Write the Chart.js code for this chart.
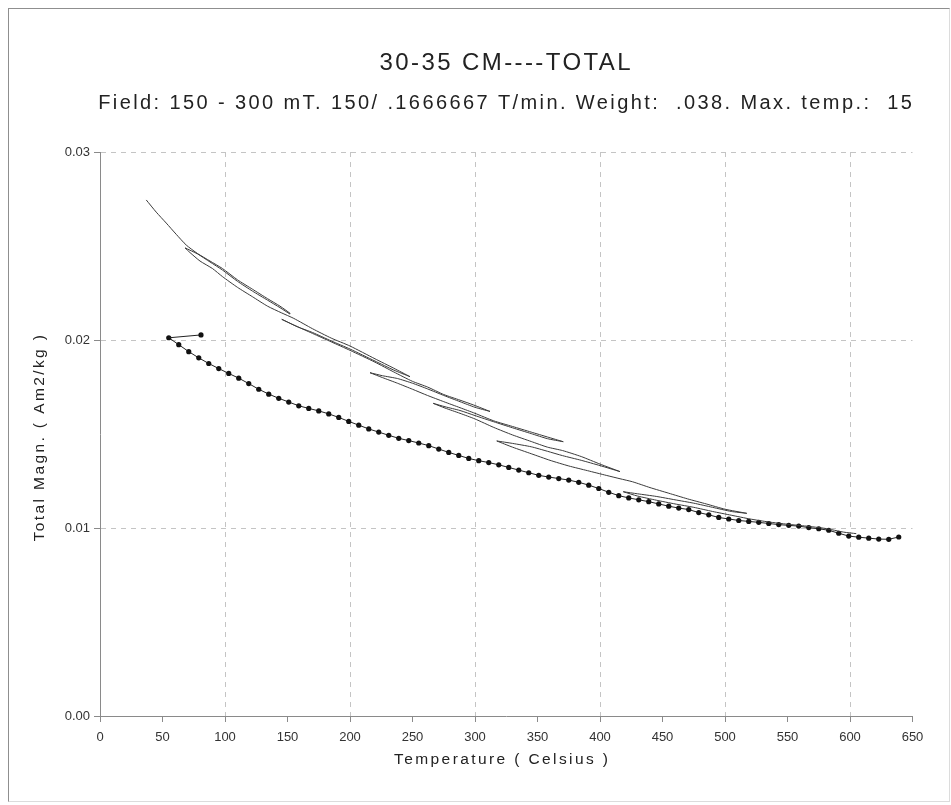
<!DOCTYPE html>
<html>
<head>
<meta charset="utf-8">
<title>30-35 CM----TOTAL</title>
<script src="https://cdn.jsdelivr.net/npm/chart.js@4.4.1/dist/chart.umd.min.js"></script>
<style>
  html, body { margin: 0; padding: 0; background: #fff; }
  #wrap { position: relative; width: 951px; height: 805px; overflow: hidden; }
  #frame {
    position: absolute; left: 8px; top: 8px; width: 940px; height: 792px;
    border-top: 1px solid #8f8f8f; border-left: 1px solid #8f8f8f;
    border-right: 1px solid #dcdcdc; border-bottom: 1px solid #dcdcdc;
  }
  #chart { position: absolute; left: 0; top: 0; }
</style>
</head>
<body>
<div id="wrap">
  <div id="frame"></div>
  <canvas id="chart" width="951" height="805"></canvas>
</div>
<script>
// texts
const chartTitle = '30-35 CM----TOTAL';
const chartSubtitle = 'Field: 150 - 300 mT. 150/ .1666667 T/min. Weight:  .038. Max. temp.:  15';
const xTitle = 'Temperature ( Celsius )';
const yTitle = 'Total Magn. ( Am2/kg )';

// axis ticks
const xTicks = [0, 50, 100, 150, 200, 250, 300, 350, 400, 450, 500, 550, 600, 650];
const yTicks = [0, 0.01, 0.02, 0.03];

// final heating run (dotted curve)
const dotTemp = [55, 63, 71, 79, 87, 95, 103, 111, 119, 127, 135, 143, 151, 159, 167, 175, 183, 191, 199,
  207, 215, 223, 231, 239, 247, 255, 263, 271, 279, 287, 295, 303, 311, 319, 327, 335, 343, 351, 359,
  367, 375, 383, 391, 399, 407, 415, 423, 431, 439, 447, 455, 463, 471, 479, 487, 495, 503, 511, 519,
  527, 535, 543, 551, 559, 567, 575, 583, 591, 599, 607, 615, 623, 631, 639];
const dotMagn = [0.02012, 0.01975, 0.01938, 0.01905, 0.01875, 0.01848, 0.01822, 0.01797, 0.01768, 0.01738,
  0.01712, 0.0169, 0.0167, 0.0165, 0.01636, 0.01623, 0.01607, 0.01588, 0.01567, 0.01547, 0.01527, 0.0151,
  0.01493, 0.01477, 0.01465, 0.01452, 0.01438, 0.0142, 0.01402, 0.01386, 0.0137, 0.01358, 0.01348, 0.01336,
  0.01322, 0.01308, 0.01294, 0.0128, 0.01271, 0.01263, 0.01255, 0.01243, 0.01228, 0.0121, 0.0119, 0.01172,
  0.0116, 0.0115, 0.0114, 0.01128, 0.01116, 0.01106, 0.01098, 0.01082, 0.0107, 0.01056, 0.01048, 0.0104,
  0.01035, 0.0103, 0.01024, 0.01018, 0.01014, 0.0101, 0.01002, 0.00996, 0.00988, 0.00972, 0.00957, 0.00951,
  0.00946, 0.00941, 0.0094, 0.00952];

// short step before the dotted run
const firstStep = [[80.8, 0.02027], [55.5, 0.02012]];

// stepwise heating / cooling cycles [temp, magn]
const heat1 = [[37, 0.02745], [45, 0.0268], [53, 0.02622], [61, 0.02562], [69, 0.02505], [78, 0.0246], [88, 0.0242],
  [98, 0.0238], [110, 0.0232], [122, 0.0227], [134, 0.0222], [144, 0.0218], [152, 0.02142]];
const cool1 = [[152, 0.02138], [144, 0.02172], [134, 0.02212], [122, 0.0226], [110, 0.02312], [98, 0.02372],
  [88, 0.02415], [78, 0.02458], [68, 0.0249]];
const heat2 = [[68, 0.0249], [72, 0.02465], [80, 0.0242], [90, 0.0238], [98, 0.02337], [110, 0.0228], [122, 0.0223],
  [134, 0.0218], [145, 0.02145], [155, 0.02115], [170, 0.0206], [185, 0.0201], [200, 0.01968], [220, 0.019],
  [235, 0.0185], [248, 0.01805]];
const cool2 = [[248, 0.01805], [235, 0.0184], [220, 0.01888], [200, 0.01952], [185, 0.01995], [170, 0.0204],
  [158, 0.0207], [145.4, 0.0211]];
const heat3 = [[145.4, 0.0211], [155, 0.0208], [170, 0.02035], [185, 0.0199], [200, 0.01945], [220, 0.01882],
  [235, 0.0183], [250, 0.0178], [262, 0.0175], [275, 0.0171], [288, 0.0168], [299, 0.01654], [312, 0.0162]];
const cool3 = [[312, 0.0162], [300, 0.01642], [288, 0.01672], [275, 0.01705], [262, 0.0174], [250, 0.0177],
  [238, 0.01795], [226, 0.0181], [216, 0.01826]];
const heat4 = [[216, 0.01826], [226, 0.018], [238, 0.0177], [250, 0.01738], [262, 0.01705], [275, 0.01672],
  [288, 0.0164], [300, 0.0161], [315, 0.0157], [330, 0.0154], [345, 0.0151], [358, 0.01484], [370.6, 0.01459]];
const cool4 = [[370.6, 0.01459], [358, 0.01475], [345, 0.01502], [330, 0.01533], [315, 0.01565], [300, 0.01598],
  [288, 0.01625], [276, 0.01645], [266.6, 0.01663]];
const heat5 = [[266.6, 0.01663], [276, 0.01638], [288, 0.0161], [300, 0.0158], [315, 0.01535], [330, 0.01495],
  [345, 0.0146], [358, 0.0143], [370, 0.01412], [385, 0.0138], [400, 0.0134], [416, 0.013]];
const cool5 = [[416, 0.013], [400, 0.01332], [385, 0.0136], [370, 0.01385], [358, 0.01408], [345, 0.01432],
  [330, 0.0145], [317.4, 0.01463]];
const heat6 = [[317.4, 0.01463], [330, 0.0143], [345, 0.01395], [360, 0.0136], [375, 0.0133], [390, 0.01305],
  [405, 0.0128], [416, 0.01262], [426, 0.01246], [440, 0.01215], [455, 0.01185], [470, 0.01155], [485, 0.01128],
  [500, 0.011], [517.4, 0.01078]];
const cool6 = [[517.4, 0.01078], [505, 0.01088], [490, 0.0111], [475, 0.01132], [460, 0.0115], [445, 0.01168],
  [430, 0.01182], [418.6, 0.01193]];
const heat7 = [[418.6, 0.01193], [430, 0.0117], [445, 0.01148], [460, 0.01128], [475, 0.0111], [490, 0.01088],
  [505, 0.01068], [520, 0.01048], [535, 0.01032], [550, 0.0102], [565, 0.0101], [580, 0.00998], [595, 0.00978],
  [605, 0.0097]];

const cycles = [heat1, cool1, heat2, cool2, heat3, cool3, heat4, cool4, heat5, cool5, heat6, cool6, heat7];
const toPoints = (pairs) => pairs.map(([t, m]) => ({ x: t, y: m }));
const cyclePoints = [].concat(...cycles.map(toPoints));

const gridGrey = '#c4c4c4';
const axisGrey = '#8a8a8a';
const tickFont = { family: '"Liberation Sans Narrow", "Liberation Sans", Arial, sans-serif', size: 13 };

// titles drawn with a bit of letter spacing, like the original print
const textPlugin = {
  id: 'printTexts',
  afterDraw(chart) {
    const { ctx, chartArea } = chart;
    const cx = (chartArea.left + chartArea.right) / 2;
    const cy = (chartArea.top + chartArea.bottom) / 2;
    ctx.save();
    ctx.fillStyle = '#222';
    ctx.textAlign = 'center';
    ctx.textBaseline = 'middle';
    ctx.letterSpacing = '2.4px';
    ctx.font = '24px "Liberation Sans", Arial, sans-serif';
    ctx.fillText(chartTitle, cx, 63);
    ctx.font = '20px "Liberation Sans", Arial, sans-serif';
    ctx.fillText(chartSubtitle, cx, 103);
    ctx.font = '15.5px "Liberation Sans", Arial, sans-serif';
    ctx.fillText(xTitle, cx - 4, 760);
    ctx.translate(40, cy + 3);
    ctx.rotate(-Math.PI / 2);
    ctx.fillText(yTitle, 0, 0);
    ctx.restore();
  }
};

new Chart(document.getElementById('chart'), {
  type: 'scatter',
  data: {
    datasets: [
      {
        label: 'cycles',
        data: cyclePoints,
        showLine: true,
        borderColor: '#3a3a3a',
        borderWidth: 1,
        pointRadius: 0,
        tension: 0.2
      },
      {
        label: 'first step',
        data: toPoints(firstStep),
        showLine: true,
        borderColor: '#222',
        borderWidth: 1,
        pointRadius: [2.6, 0],
        pointBackgroundColor: '#111',
        pointBorderWidth: 0
      },
      {
        label: 'heating',
        data: dotTemp.map((t, i) => ({ x: t, y: dotMagn[i] })),
        showLine: true,
        borderColor: '#222',
        borderWidth: 1,
        pointRadius: 2.6,
        pointBackgroundColor: '#111',
        pointBorderWidth: 0
      }
    ]
  },
  options: {
    responsive: false,
    animation: false,
    devicePixelRatio: 1,
    layout: { padding: { left: 0, right: 38.5, top: 152, bottom: 0 } },
    plugins: {
      legend: { display: false },
      tooltip: { enabled: false }
    },
    scales: {
      x: {
        type: 'linear',
        min: 0,
        max: 650,
        afterFit: (scale) => { scale.height = 89; },
        afterBuildTicks: (scale) => { scale.ticks = xTicks.map(v => ({ value: v })); },
        ticks: {
          autoSkip: false,
          maxRotation: 0,
          padding: 8,
          color: '#333',
          font: tickFont
        },
        grid: {
          color: (c) => (c.tick && c.tick.value % 100 === 0 && c.tick.value > 0 && c.tick.value < 650) ? gridGrey : 'rgba(0,0,0,0)',
          tickColor: axisGrey,
          tickLength: 6,
          lineWidth: 1
        },
        border: { color: axisGrey, width: 1, dash: [5, 5] }
      },
      y: {
        type: 'linear',
        min: 0,
        max: 0.03,
        afterFit: (scale) => { scale.width = 100; },
        afterBuildTicks: (scale) => { scale.ticks = yTicks.map(v => ({ value: v })); },
        ticks: {
          padding: 4,
          color: '#333',
          font: tickFont,
          callback: (v) => v.toFixed(2)
        },
        grid: {
          color: (c) => (c.tick && c.tick.value > 0) ? gridGrey : 'rgba(0,0,0,0)',
          tickColor: axisGrey,
          tickLength: 6,
          lineWidth: 1
        },
        border: { color: axisGrey, width: 1, dash: [5, 5] }
      }
    }
  },
  plugins: [textPlugin]
});
</script>
</body>
</html>
